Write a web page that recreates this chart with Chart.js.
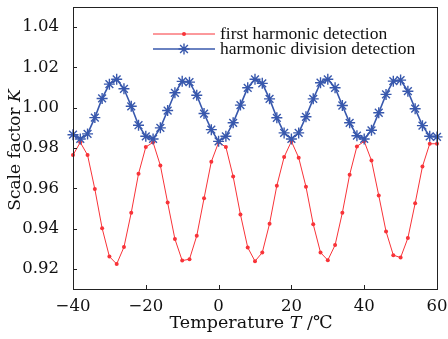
<!DOCTYPE html>
<html><head><meta charset="utf-8">
<script src="https://cdn.jsdelivr.net/npm/chart.js@4.4.1/dist/chart.umd.min.js"></script>
<style>html,body{margin:0;padding:0;background:#fff;}#wrap{width:448px;height:339px;}</style>
</head><body><div id="wrap"><canvas id="c" width="448" height="339"></canvas></div>
<script>
const temperatures = [-40,-38,-36,-34,-32,-30,-28,-26,-24,-22,-20,-18,-16,-14,-12,-10,-8,-6,-4,-2,0,2,4,6,8,10,12,14,16,18,20,22,24,26,28,30,32,34,36,38,40,42,44,46,48,50,52,54,56,58,60];
const firstHarmonic = [0.9765,0.9828,0.9765,0.9596,0.9402,0.9261,0.9224,0.9308,0.9479,0.9672,0.9805,0.9828,0.9713,0.9529,0.9348,0.9241,0.9248,0.9364,0.9550,0.9732,0.9828,0.9805,0.9658,0.9470,0.9306,0.9238,0.9281,0.9424,0.9613,0.9755,0.9833,0.9752,0.9608,0.9421,0.9281,0.9243,0.9318,0.9479,0.9667,0.9808,0.9833,0.9738,0.9564,0.9386,0.9268,0.9256,0.9353,0.9526,0.9708,0.9821,0.9821];
const harmonicDivision = [0.9866,0.9845,0.9870,0.9951,1.0046,1.0117,1.0141,1.0094,1.0007,0.9913,0.9858,0.9845,0.9900,0.9986,1.0074,1.0131,1.0127,1.0062,0.9971,0.9891,0.9833,0.9858,0.9925,1.0013,1.0099,1.0141,1.0121,1.0044,0.9950,0.9875,0.9845,0.9875,0.9955,1.0044,1.0124,1.0141,1.0099,1.0011,0.9925,0.9861,0.9845,0.9888,0.9975,1.0066,1.0132,1.0137,1.0082,0.9995,0.9911,0.9858,0.9855];
const xTicks = [-40,-20,0,20,40,60];
const yTicks = [0.92,0.94,0.96,0.98,1.00,1.02,1.04];
const seriesNames = ['first harmonic detection','harmonic division detection'];

const RED = '#f83338', BLUE = '#3858ad';
const SERIF = '"DejaVu Serif", serif';
const LEGEND_FONT = '17.5px "Liberation Serif", serif';

const framePlugin = {
  id: 'frame',
  afterDatasetsDraw(chart) {
    const {ctx, chartArea: a, scales: {x, y}} = chart;
    ctx.save();
    ctx.strokeStyle = '#222'; ctx.lineWidth = 1;
    ctx.strokeRect(Math.round(a.left)+0.5, Math.round(a.top)+0.5, Math.round(a.right-a.left), Math.round(a.bottom-a.top));
    ctx.beginPath();
    x.ticks.forEach(t => { const px = Math.round(x.getPixelForValue(t.value))+0.5; ctx.moveTo(px, a.bottom); ctx.lineTo(px, a.bottom-4); });
    y.ticks.forEach(t => { const py = Math.round(y.getPixelForValue(t.value))+0.5; ctx.moveTo(a.left, py); ctx.lineTo(a.left+4, py); });
    ctx.stroke();
    // axis titles
    ctx.fillStyle = '#111';
    ctx.textBaseline = 'alphabetic';
    const fs = 17.5;
    const parts = [['Temperature ', 'normal'], ['T', 'italic'], [' /℃', 'normal']];
    let w = 0;
    parts.forEach(p => { ctx.font = p[1] + ' ' + fs + 'px ' + SERIF; w += ctx.measureText(p[0]).width; });
    let cx = 251 - w/2;
    parts.forEach(p => { ctx.font = p[1] + ' ' + fs + 'px ' + SERIF; ctx.fillText(p[0], cx, 328); cx += ctx.measureText(p[0]).width; });
    const fy = 17;
    const yparts = [['Scale factor ', 'normal'], ['K', 'italic']];
    w = 0;
    yparts.forEach(p => { ctx.font = p[1] + ' ' + fy + 'px ' + SERIF; w += ctx.measureText(p[0]).width; });
    ctx.translate(20, 150); ctx.rotate(-Math.PI/2);
    cx = -w/2;
    yparts.forEach(p => { ctx.font = p[1] + ' ' + fy + 'px ' + SERIF; ctx.fillText(p[0], cx, 0); cx += ctx.measureText(p[0]).width; });
    ctx.restore();
    // legend
    ctx.save();
    const ds = chart.data.datasets;
    const order = [1, 0];
    const rows = [34, 49];
    order.forEach((di, i) => {
      const d = ds[di];
      const yy = rows[i];
      ctx.strokeStyle = d.borderColor; ctx.lineWidth = d.borderWidth;
      ctx.beginPath(); ctx.moveTo(153, yy); ctx.lineTo(215, yy); ctx.stroke();
      ctx.fillStyle = d.pointBackgroundColor; ctx.strokeStyle = d.pointBorderColor; ctx.lineWidth = d.pointBorderWidth;
      Chart.helpers.drawPoint(ctx, {pointStyle: d.pointStyle, radius: d.pointRadius, borderWidth: d.pointBorderWidth}, 184, yy);
      ctx.fillStyle = '#111';
      ctx.font = LEGEND_FONT;
      ctx.textBaseline = 'middle';
      ctx.fillText(d.label, 220, yy);
    });
    ctx.restore();
  }
};

new Chart(document.getElementById('c'), {
  type: 'line',
  data: {
    labels: temperatures,
    datasets: [
      {label: seriesNames[1], data: temperatures.map((t,i)=>({x:t, y:harmonicDivision[i]})), borderColor: BLUE, borderWidth: 1.6,
       pointStyle: 'star', pointRadius: 5.5, pointBorderWidth: 1.4, pointBorderColor: BLUE, pointBackgroundColor: BLUE, order: 0, clip: false},
      {label: seriesNames[0], data: temperatures.map((t,i)=>({x:t, y:firstHarmonic[i]})), borderColor: RED, borderWidth: 1,
       pointStyle: 'circle', pointRadius: 2, pointBorderWidth: 0, pointBorderColor: RED, pointBackgroundColor: RED, order: 1, clip: false}
    ]
  },
  options: {
    responsive: false, animation: false, devicePixelRatio: 1,
    layout: {padding: {left: 0, right: 11, top: 7, bottom: 0}},
    plugins: {legend: {display: false}, tooltip: {enabled: false}},
    scales: {
      x: {type: 'linear', min: -40, max: 60,
          afterBuildTicks: s => { s.ticks = xTicks.map(v => ({value: v})); },
          afterFit: s => { s.height = 50; s.paddingLeft = 0; s.paddingRight = 0; },
          grid: {display: false}, border: {display: false},
          ticks: {color: '#111', font: {family: SERIF, size: 16.5}, padding: 0, maxRotation: 0,
                  callback: v => (v < 0 ? '\u2212' + Math.abs(v) : String(v))}},
      y: {type: 'linear', min: 0.91, max: 1.05,
          afterBuildTicks: s => { s.ticks = yTicks.map(v => ({value: v})); },
          afterFit: s => { s.width = 73; s.paddingTop = 0; s.paddingBottom = 0; },
          grid: {display: false}, border: {display: false},
          ticks: {color: '#111', font: {family: SERIF, size: 16.5}, padding: 6,
                  callback: v => Number(v).toFixed(2)}}
    }
  },
  plugins: [framePlugin]
});
</script></body></html>
